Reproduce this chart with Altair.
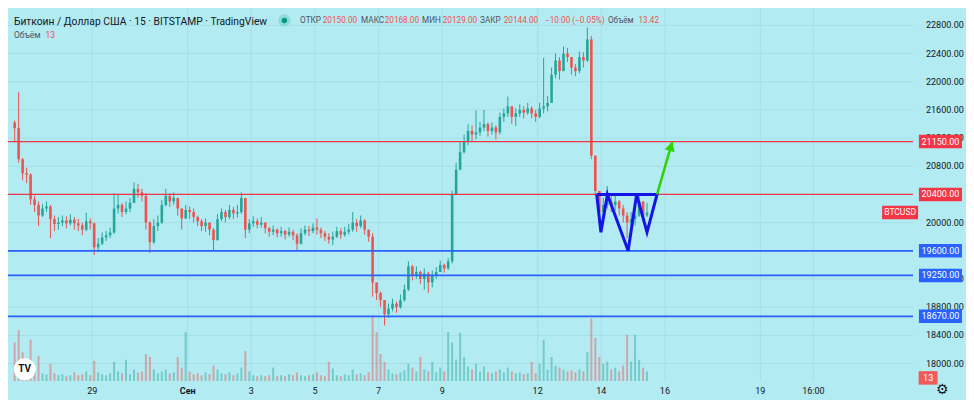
import altair as alt
import pandas as pd

FONT = "Roboto"
BG = "#b2ebf2"
GRID = "#a6dfe7"
TXT = "#131722"
TXT2 = "#50535e"
RED = "#f23645"
VRED = "#ef5350"
BLUE = "#2962ff"
UP = "#26a69a"
DOWN = "#ef5350"
PBLUE = "#1414e6"
GREEN = "#2fd400"

SX = 958 / 974
SY = 392 / 408
W = 905
H = 373

# ---------------- data ----------------
start_day = 0.5          # days since Aug 26 00:00  (Aug 26 12:00)
candle_days = 0.125      # 3-hour candles
first_open = 21420

close = [21340, 20900, 20700, 20680, 20330, 20250, 20100, 20200, 20230, 20050,
         19980, 20000, 20030, 19990, 20040, 19990, 19960, 19900, 20020, 19990,
         19650, 19700, 19790, 19820, 19860, 20200, 20250, 20150, 20200, 20280,
         20480, 20430, 20380, 20000, 19720, 19950, 20000, 20250, 20380, 20300,
         20350, 20200, 20060, 20180, 20150, 20080, 20020, 19950, 20000, 19900,
         19750, 20050, 20150, 20080, 20180, 20130, 20150, 20350, 19900, 19990,
         20020, 19970, 20000, 19920, 19870, 19900, 19850, 19880, 19830, 19870,
         19820, 19700, 19850, 19900, 19880, 19930, 19900, 19850, 19800, 19760,
         19800, 19880, 19830, 19870, 19900, 20000, 19950, 20030, 19900, 19800,
         19150, 19000, 18900, 18700, 18780, 18850, 18800, 18900, 19050, 19380,
         19250, 19300, 19200, 19280, 19150, 19250, 19300, 19400, 19350, 19450,
         20400, 20750, 21000, 21150, 21300, 21250, 21280, 21350, 21400, 21300,
         21350, 21280, 21500, 21550, 21650, 21500, 21550, 21600, 21560, 21620,
         21550, 21500, 21620, 21650, 21700, 22100, 22300, 22150, 22400, 22350,
         22200, 22150, 22350, 22300, 22600, 20950, 20450, 20150, 20250, 20300,
         20250, 20300, 20200, 20100, 20000, 20050, 20100, 20300, 20100, 20144]

high = [21450, 21850, 20920, 20780, 20700, 20380, 20300, 20260, 20300, 20250,
        20100, 20080, 20100, 20090, 20120, 20080, 20050, 20000, 20140, 20060,
        20000, 19780, 19860, 19880, 19930, 20420, 20400, 20280, 20300, 20350,
        20570, 20550, 20480, 20420, 20020, 20050, 20100, 20320, 20480, 20420,
        20430, 20350, 20200, 20250, 20230, 20200, 20100, 20050, 20060, 20000,
        19920, 20120, 20200, 20180, 20250, 20220, 20250, 20430, 20350, 20050,
        20090, 20060, 20080, 20000, 19940, 19960, 19920, 19940, 19900, 19930,
        19900, 19850, 19920, 19960, 19950, 19990, 20060, 19930, 19880, 19850,
        19870, 19940, 19920, 19940, 19980, 20150, 20050, 20100, 20050, 19900,
        19850, 19150, 19020, 18900, 18850, 18920, 18880, 18980, 19120, 19450,
        19400, 19380, 19320, 19350, 19300, 19320, 19370, 19460, 19420, 19500,
        20450, 20850, 21150, 21250, 21400, 21380, 21590, 21430, 21600, 21420,
        21420, 21380, 21560, 21620, 21790, 21650, 21620, 21680, 21650, 21700,
        21650, 21600, 21700, 22340, 21800, 22200, 22400, 22350, 22500, 22480,
        22350, 22250, 22430, 22420, 22770, 22650, 20950, 20450, 20350, 20520,
        20380, 20380, 20320, 20250, 20150, 20150, 20200, 20420, 20300, 20280]

low = [21140, 20850, 20600, 20560, 20250, 20150, 19950, 20080, 20150, 19780,
       19880, 19900, 19950, 19920, 19960, 19900, 19880, 19820, 19880, 19900,
       19540, 19580, 19680, 19740, 19780, 19840, 20130, 20080, 20120, 20150,
       20280, 20350, 20300, 19900, 19570, 19700, 19880, 19980, 20230, 20220,
       20250, 20100, 19900, 20050, 20050, 20000, 19950, 19880, 19870, 19820,
       19610, 19750, 20020, 20000, 20050, 20050, 20070, 20120, 19780, 19850,
       19940, 19920, 19930, 19850, 19800, 19820, 19790, 19800, 19760, 19800,
       19750, 19610, 19690, 19820, 19810, 19850, 19830, 19780, 19740, 19700,
       19680, 19780, 19770, 19800, 19830, 19870, 19870, 19920, 19830, 19730,
       18950, 18900, 18800, 18540, 18650, 18740, 18720, 18780, 18880, 19030,
       19180, 19200, 19130, 19050, 19000, 19080, 19200, 19300, 19290, 19330,
       19420, 20400, 20750, 20980, 21100, 21150, 21180, 21230, 21300, 21220,
       21250, 21180, 21250, 21430, 21500, 21400, 21370, 21500, 21480, 21530,
       21480, 21430, 21480, 21550, 21580, 21700, 22050, 22030, 22150, 22280,
       22100, 22080, 22120, 22200, 22280, 20900, 20380, 20000, 20100, 20200,
       20150, 20170, 20100, 20000, 19780, 19950, 19960, 20080, 20020, 20080]

volume = [200, 265, 150, 60, 215, 50, 130, 40, 35, 90,
          40, 30, 35, 25, 30, 45, 30, 35, 50, 30,
          105, 45, 35, 30, 40, 100, 50, 40, 110, 35,
          60, 45, 50, 140, 125, 60, 40, 50, 60, 40,
          45, 125, 70, 255, 50, 35, 40, 30, 45, 35,
          80, 60, 40, 35, 45, 30, 40, 70, 155, 50,
          30, 25, 30, 25, 30, 70, 25, 30, 25, 35,
          30, 45, 30, 25, 30, 35, 45, 30, 25, 100,
          65, 30, 25, 35, 30, 60, 35, 40, 30, 45,
          340, 255, 140, 100, 60, 40, 35, 45, 55, 90,
          70, 50, 125, 60, 50, 100, 45, 70, 50, 255,
          200, 110, 250, 125, 75, 60, 90, 50, 75, 45,
          40, 50, 60, 45, 70, 50, 40, 45, 35, 40,
          100, 40, 90, 215, 60, 125, 80, 70, 60, 50,
          55, 45, 60, 50, 150, 325, 225, 125, 90, 100,
          60, 70, 50, 80, 240, 100, 240, 110, 70, 50]

level_price = [21150, 20400, 19600, 19250, 18670]
level_kind = ["res", "res", "sup", "sup", "sup"]

pattern_day = [18.856, 18.988, 19.193, 19.844, 20.110, 20.437, 20.752, 18.856]
pattern_price = [20400, 19863, 20400, 19600, 20400, 19863, 20400, 20400]
arrow_day = [20.752, 21.232]
arrow_price = [20400, 21150]
head_day = [21.189]
head_price = [21082]

tick_days = [3, 6, 8, 10, 12, 14, 17, 19, 21, 24, 25.6667]
tick_labels = ["29", "Сен", "3", "5", "7", "9", "12", "14", "16", "19", "16:00"]
price_ticks = list(range(18000, 22801, 400))
hidden_price_labels = [20400, 19600]     # fully covered by the level boxes
last_price = 20144
last_volume_label = "13"

x_dom = [0.51, 28.64]
y_dom = [17752, 23046]
vol_full = 1940          # volume that would fill the whole plot height

# ---------------- frames ----------------
opens = [first_open] + close[:-1]
cdf = pd.DataFrame({
    "t": [start_day + candle_days * (i + 0.5) for i in range(len(close))],
    "o": opens, "c": close, "h": high, "l": low, "v": volume,
})
cdf["h"] = cdf[["h", "o", "c"]].max(axis=1)
cdf["l"] = cdf[["l", "o", "c"]].min(axis=1)
cdf["dir"] = ["up" if c >= o else "down" for o, c in zip(cdf["o"], cdf["c"])]

lev = pd.DataFrame({"price": level_price, "kind": level_kind})
pdf = pd.DataFrame({"t": pattern_day, "p": pattern_price, "i": list(range(len(pattern_day)))})
adf = pd.DataFrame({"t": arrow_day, "p": arrow_price})
hdf = pd.DataFrame({"t": head_day, "p": head_price})
ldf = pd.DataFrame({"price": [last_price]})
xt = pd.DataFrame({"t": tick_days, "lab": tick_labels})
yt = pd.DataFrame({"price": price_ticks})
ytl = pd.DataFrame({"price": [p for p in price_ticks if p not in hidden_price_labels]})
one = pd.DataFrame({"a": [0]})

xs = alt.Scale(domain=x_dom, nice=False, zero=False)
ys = alt.Scale(domain=y_dom, nice=False, zero=False)
dir_color = alt.Color("dir:N", scale=alt.Scale(domain=["up", "down"], range=[UP, DOWN]), legend=None)

X = lambda f="t:Q": alt.X(f, scale=xs, axis=None)
Y = lambda f: alt.Y(f, scale=ys, axis=None)

# ---- grid and axis labels (through the x / y scales) ----
vgrid = alt.Chart(xt).mark_rule(color=GRID, strokeWidth=1).encode(x=X())
hgrid = alt.Chart(yt).mark_rule(color=GRID, strokeWidth=1).encode(y=Y("price:Q"))
ylab = alt.Chart(ytl).mark_text(align="left", baseline="middle", fontSize=9, font=FONT, color=TXT).encode(
    x=alt.value(W + 13), y=Y("price:Q"), text=alt.Text("price:Q", format=".2f"))
xlab = alt.Chart(xt).transform_filter(alt.datum.lab != "Сен").mark_text(
    align="center", baseline="middle", fontSize=9, font=FONT, color=TXT).encode(
    x=X(), y=alt.value(H + 9.5), text="lab:N")
xlab_b = alt.Chart(xt).transform_filter(alt.datum.lab == "Сен").mark_text(
    align="center", baseline="middle", fontSize=9, font=FONT, color=TXT, fontWeight="bold").encode(
    x=X(), y=alt.value(H + 9.5), text="lab:N")

# volume, drawn in the lower part of the same plot (converted to the price scale)
span = (y_dom[1] - y_dom[0]) / vol_full
vol = alt.Chart(cdf).transform_calculate(
    vy=f"{y_dom[0]} + datum.v * {span}", vb=f"{y_dom[0]}"
).mark_bar(width=2, opacity=0.45, orient="vertical").encode(
    x=X(), y=Y("vy:Q"), y2="vb:Q", color=dir_color)

wick = alt.Chart(cdf).mark_rule(strokeWidth=1).encode(
    x=X(), y=Y("l:Q"), y2="h:Q", color=dir_color)
body = alt.Chart(cdf).mark_bar(width=2.6, orient="vertical").encode(
    x=X(), y=Y("o:Q"), y2="c:Q", color=dir_color)

res = alt.Chart(lev).transform_filter(alt.datum.kind == "res").mark_rule(color=RED, strokeWidth=1.3).encode(y=Y("price:Q"))
sup = alt.Chart(lev).transform_filter(alt.datum.kind == "sup").mark_rule(color=BLUE, strokeWidth=1.8).encode(y=Y("price:Q"))

pattern = alt.Chart(pdf).mark_line(color=PBLUE, strokeWidth=3).encode(x=X(), y=Y("p:Q"), order="i:O")
arrow = alt.Chart(adf).mark_line(color=GREEN, strokeWidth=2.5).encode(x=X(), y=Y("p:Q"))
head = alt.Chart(hdf).mark_point(shape="triangle-up", filled=True, size=110, angle=16,
                                 color=GREEN, opacity=1).encode(x=X(), y=Y("p:Q"))

BOX_X = 948 * SX
res_box = alt.Chart(lev).transform_filter(alt.datum.kind == "res").mark_tick(
    color=RED, orient="horizontal", size=43, thickness=13.5, opacity=1).encode(
    x=alt.value(BOX_X), y=Y("price:Q"))
sup_box = alt.Chart(lev).transform_filter(alt.datum.kind == "sup").mark_tick(
    color=BLUE, orient="horizontal", size=43, thickness=13.5, opacity=1).encode(
    x=alt.value(BOX_X), y=Y("price:Q"))
box_txt = alt.Chart(lev).mark_text(color="white", fontSize=9, font=FONT, baseline="middle").encode(
    x=alt.value(BOX_X), y=Y("price:Q"), text=alt.Text("price:Q", format=".2f"))

SYM_X = 907 * SX
sym_box = alt.Chart(ldf).mark_tick(color=RED, orient="horizontal", size=36, thickness=13.5, opacity=1).encode(
    x=alt.value(SYM_X), y=Y("price:Q"))
sym_txt = alt.Chart(ldf).mark_text(text="BTCUSD", color="white", fontSize=8.5, font=FONT, baseline="middle").encode(
    x=alt.value(SYM_X), y=Y("price:Q"))


def label(txt, x, y, size, color, weight="normal", align="left"):
    return alt.Chart(one).mark_text(
        text=txt, align=align, baseline="middle", fontSize=size, color=color,
        font=FONT, fontWeight=weight).encode(x=alt.value(x * SX), y=alt.value(y * SY))


def dot(x, y, size, color, opacity):
    return alt.Chart(one).mark_point(shape="circle", filled=True, size=size, color=color,
                                     opacity=opacity).encode(x=alt.value(x * SX), y=alt.value(y * SY))


header_parts = [
    ("ОТКР", 297, TXT2), ("20150.00", 320, VRED), ("МАКС", 359, TXT2), ("20168.00", 383, VRED),
    ("МИН", 421, TXT2), ("20129.00", 442, VRED), ("ЗАКР", 480, TXT2), ("20144.00", 504, VRED),
    ("−10.00 (−0.05%)", 546, VRED), ("Объём", 610, TXT2), ("13.42", 641, VRED),
]
header = [label("Биткоин / Доллар США · 15 · BITSTAMP · TradingView", 6, 15, 10.3, TXT)]
header += [label(t, x, 14, 8.2, c) for t, x, c in header_parts]
header += [label("Объём", 6, 28, 8.5, TXT2), label("13", 38, 28, 8.5, VRED)]
header += [dot(281, 13, 150, "#089981", 0.2), dot(281, 13, 30, "#089981", 1)]

vbox = alt.Chart(one).mark_tick(color="#f05b5b", orient="horizontal", size=19, thickness=13.5, opacity=1).encode(
    x=alt.value(935.5 * SX), y=alt.value(385 * SY))
vtxt = label(last_volume_label, 935.5, 385, 9, "white", align="center")
logo = [dot(17, 376, 480, "white", 1), label("TV", 17, 376, 10, "#131722", weight="bold", align="center")]
gear = label("⚙", 950, 398, 14, TXT, align="center")

chart = alt.layer(
    vgrid, hgrid, ylab, xlab, xlab_b,
    vol, wick, body, res, sup, pattern, arrow, head,
    res_box, sup_box, box_txt, sym_box, sym_txt, vbox, vtxt, gear,
    *header, *logo,
).properties(
    width=W, height=H,
    padding={"left": 0, "top": 0, "right": 53, "bottom": 19},
    autosize=alt.AutoSizeParams(type="none"),
    background=BG,
).configure_view(strokeWidth=0, fill=BG)

chart.save("out.html", embed_options={"renderer": "svg", "actions": False})
